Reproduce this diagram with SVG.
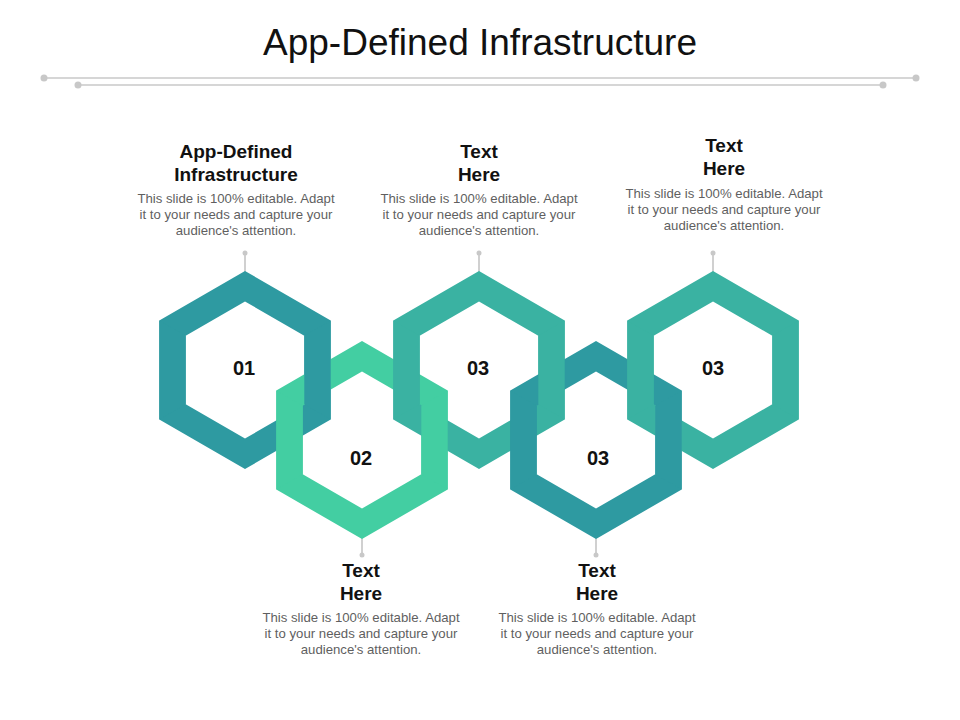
<svg xmlns="http://www.w3.org/2000/svg" xmlns:xlink="http://www.w3.org/1999/xlink" width="960" height="720" viewBox="0 0 960 720">
<style>
.title{font-family:"Liberation Sans",Arial,sans-serif;font-size:37px;fill:#111;text-anchor:middle}
.head{font-family:"Liberation Sans",Arial,sans-serif;font-size:19px;font-weight:bold;fill:#111;text-anchor:middle}
.body{font-family:"Liberation Sans",Arial,sans-serif;font-size:13.2px;fill:#5f5f5f;text-anchor:middle}
.num{font-family:"Liberation Sans",Arial,sans-serif;font-size:20px;font-weight:bold;fill:#111;text-anchor:middle}
.deco{stroke:#c8c8c8;stroke-width:1.5;fill:none}
.dot{fill:#c8c8c8}
.stem{stroke:#d0d0d0;stroke-width:2}
.c1{fill:#2E9AA1}
.c2{fill:#43CEA2}
.c3{fill:#3AB2A2}
</style>
<defs>
<path id="ring" fill-rule="evenodd" d="M0,-99 L85.7,-49.5 L85.7,49.5 L0,99 L-85.7,49.5 L-85.7,-49.5 Z M0,-68.5 L59.3,-34.25 L59.3,34.25 L0,68.5 L-59.3,34.25 L-59.3,-34.25 Z"/>
<path id="sides" d="M85.7,-49.5 L85.7,49.5 L59.3,34.25 L59.3,-34.25 Z M-85.7,-49.5 L-85.7,49.5 L-59.3,34.25 L-59.3,-34.25 Z"/>
</defs>
<rect width="960" height="720" fill="#fff"/>
<text class="title" x="480" y="55">App-Defined Infrastructure</text>
<g id="header-lines">
<line class="deco" x1="44" y1="78" x2="916" y2="78"/>
<circle class="dot" cx="44" cy="78" r="3.5"/>
<circle class="dot" cx="916" cy="78" r="3.5"/>
<line class="deco" x1="78" y1="85" x2="883" y2="85"/>
<circle class="dot" cx="78" cy="85" r="3.5"/>
<circle class="dot" cx="883" cy="85" r="3.5"/>
</g>
<g id="connectors">
<line class="stem" x1="245" y1="253" x2="245" y2="272"/><circle class="dot" cx="245" cy="253" r="2.5"/>
<line class="stem" x1="479" y1="253" x2="479" y2="272"/><circle class="dot" cx="479" cy="253" r="2.5"/>
<line class="stem" x1="713" y1="253" x2="713" y2="272"/><circle class="dot" cx="713" cy="253" r="2.5"/>
<line class="stem" x1="362" y1="538" x2="362" y2="555"/><circle class="dot" cx="362" cy="555" r="2.5"/>
<line class="stem" x1="596" y1="538" x2="596" y2="555"/><circle class="dot" cx="596" cy="555" r="2.5"/>
</g>
<g id="rings">
<use xlink:href="#ring" href="#ring" class="c1" transform="translate(245,370)"/>
<use xlink:href="#ring" href="#ring" class="c2" transform="translate(362,440)"/>
<use xlink:href="#ring" href="#ring" class="c3" transform="translate(479,370)"/>
<use xlink:href="#ring" href="#ring" class="c1" transform="translate(596,440)"/>
<use xlink:href="#ring" href="#ring" class="c3" transform="translate(713,370)"/>
</g>
<g id="ring-sides">
<use xlink:href="#sides" href="#sides" class="c1" transform="translate(245,370)"/>
<use xlink:href="#sides" href="#sides" class="c2" transform="translate(362,440)"/>
<use xlink:href="#sides" href="#sides" class="c3" transform="translate(479,370)"/>
<use xlink:href="#sides" href="#sides" class="c1" transform="translate(596,440)"/>
<use xlink:href="#sides" href="#sides" class="c3" transform="translate(713,370)"/>
</g>
<g id="node-01">
<text class="num" x="244" y="375">01</text>
<text class="head" x="236" y="158">App-Defined</text>
<text class="head" x="236" y="181">Infrastructure</text>
<text class="body" x="236" y="203">This slide is 100% editable. Adapt</text>
<text class="body" x="236" y="219">it to your needs and capture your</text>
<text class="body" x="236" y="235">audience's attention.</text>
</g>
<g id="node-02">
<text class="num" x="361" y="465">02</text>
<text class="head" x="361" y="577">Text</text>
<text class="head" x="361" y="600">Here</text>
<text class="body" x="361" y="622">This slide is 100% editable. Adapt</text>
<text class="body" x="361" y="638">it to your needs and capture your</text>
<text class="body" x="361" y="654">audience's attention.</text>
</g>
<g id="node-03a">
<text class="num" x="478" y="375">03</text>
<text class="head" x="479" y="158">Text</text>
<text class="head" x="479" y="181">Here</text>
<text class="body" x="479" y="203">This slide is 100% editable. Adapt</text>
<text class="body" x="479" y="219">it to your needs and capture your</text>
<text class="body" x="479" y="235">audience's attention.</text>
</g>
<g id="node-03b">
<text class="num" x="598" y="465">03</text>
<text class="head" x="597" y="577">Text</text>
<text class="head" x="597" y="600">Here</text>
<text class="body" x="597" y="622">This slide is 100% editable. Adapt</text>
<text class="body" x="597" y="638">it to your needs and capture your</text>
<text class="body" x="597" y="654">audience's attention.</text>
</g>
<g id="node-03c">
<text class="num" x="713" y="375">03</text>
<text class="head" x="724" y="152">Text</text>
<text class="head" x="724" y="175">Here</text>
<text class="body" x="724" y="198">This slide is 100% editable. Adapt</text>
<text class="body" x="724" y="214">it to your needs and capture your</text>
<text class="body" x="724" y="230">audience's attention.</text>
</g>
</svg>
